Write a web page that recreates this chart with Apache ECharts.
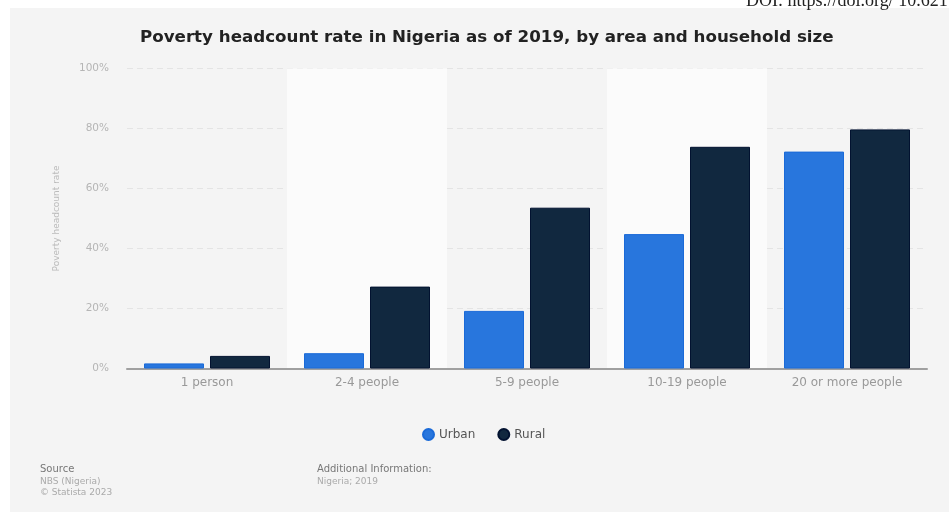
<!DOCTYPE html>
<html>
<head>
<meta charset="utf-8">
<script src="https://cdn.jsdelivr.net/npm/echarts@6/dist/echarts.min.js"></script>
<style>html,body{margin:0;padding:0;background:#fff}#c{width:949px;height:521px}</style>
</head>
<body>
<div id="c"></div>
<script>
const categories = ['1 person', '2-4 people', '5-9 people', '10-19 people', '20 or more people'];
const urban = [1.7, 5.1, 19.2, 44.8, 72.3];
const rural = [4.2, 27.3, 53.6, 73.9, 79.7];
const yTicks = { min: 0, max: 100, interval: 20 };

const chart = echarts.init(document.getElementById('c'), null, { renderer: 'canvas' });
const F = 'DejaVu Sans';
chart.setOption({
  backgroundColor: '#ffffff',
  animation: false,
  graphic: [
    { type: 'rect', shape: { x: 10, y: 8, width: 939, height: 504 }, style: { fill: '#f4f4f4' }, z: -10 },
    { type: 'text', left: 746, top: -8, z: 10, style: { text: 'DOI: https://doi.org/ 10.621', font: '18px "Liberation Serif"', fill: '#222' } },
    { type: 'text', left: 40, top: 464, style: { text: 'Source', font: '10px "DejaVu Sans"', fill: '#777' } },
    { type: 'text', left: 40, top: 477, style: { text: 'NBS (Nigeria)', font: '9px "DejaVu Sans"', fill: '#aaa' } },
    { type: 'text', left: 40, top: 488, style: { text: '© Statista 2023', font: '9px "DejaVu Sans"', fill: '#aaa' } },
    { type: 'text', left: 317, top: 464, style: { text: 'Additional Information:', font: '10px "DejaVu Sans"', fill: '#777' } },
    { type: 'text', left: 317, top: 477, style: { text: 'Nigeria; 2019', font: '9px "DejaVu Sans"', fill: '#aaa' } }
  ],
  title: {
    text: 'Poverty headcount rate in Nigeria as of 2019, by area and household size',
    left: 135, top: 24,
    textStyle: { fontFamily: F, fontSize: 16.7, fontWeight: 'bold', color: '#222' }
  },
  legend: {
    data: ['Urban', 'Rural'],
    left: 417, top: 423,
    icon: 'circle', itemWidth: 11, itemHeight: 11, itemGap: 22,
    textStyle: { fontFamily: F, fontSize: 12, color: '#555' }
  },
  grid: { left: 127, right: 22, top: 68.5, bottom: 152.5, containLabel: false },
  xAxis: {
    type: 'category',
    data: categories,
    axisLine: { lineStyle: { color: '#a0a0a0', width: 2 } },
    axisTick: { show: false },
    axisLabel: { fontFamily: F, fontSize: 12, color: '#999', margin: 8 },
    splitArea: { show: true, areaStyle: { color: ['rgba(0,0,0,0)', '#fbfbfb'] } }
  },
  yAxis: {
    type: 'value',
    min: yTicks.min, max: yTicks.max, interval: yTicks.interval,
    name: 'Poverty headcount rate',
    nameLocation: 'middle', nameGap: 66, nameRotate: 90,
    nameTextStyle: { fontFamily: F, fontSize: 9, color: '#bbb' },
    axisLine: { show: false },
    axisTick: { show: false },
    axisLabel: { fontFamily: F, fontSize: 10.5, color: '#b5b5b5', margin: 18, formatter: '{value}%' },
    splitLine: { lineStyle: { color: '#e4e4e4', type: [6, 4], width: 1 } }
  },
  series: [
    { name: 'Urban', type: 'bar', data: urban, barWidth: 60, barGap: '10%',
      itemStyle: { color: '#2876dd', borderColor: '#1a6ad8', borderWidth: 1 } },
    { name: 'Rural', type: 'bar', data: rural, barWidth: 60,
      itemStyle: { color: '#11283f', borderColor: '#021230', borderWidth: 1 } }
  ]
});
</script>
</body>
</html>
